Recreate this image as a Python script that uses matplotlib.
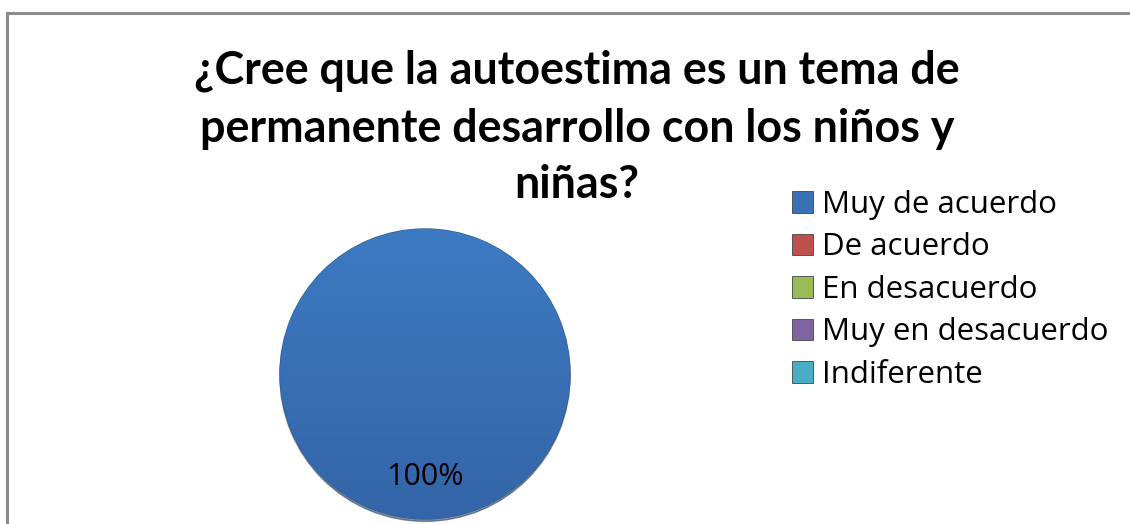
import matplotlib
matplotlib.use("Agg")
import numpy as np
import matplotlib.pyplot as plt
from matplotlib.lines import Line2D

# data
categorias = ["Muy de acuerdo", "De acuerdo", "En desacuerdo",
              "Muy en desacuerdo", "Indiferente"]
porcentajes = [100, 0, 0, 0, 0]
colores = ["#3a71b5", "#c0504d", "#9bbb59", "#8064a2", "#4bacc6"]
titulo = ["¿Cree que la autoestima es un tema de",
          "permanente desarrollo con los niños y",
          "niñas?"]

plt.rcParams["font.family"] = ["Open Sans", "DejaVu Sans"]

W, H = 1130, 524
fig = plt.figure(figsize=(W / 100, H / 100), dpi=100)

# gray frame of the chart area
fig.add_artist(Line2D([0.0062, 0.0062], [0, 0.975], color="#8c8c8c", lw=2.2))
fig.add_artist(Line2D([0.0062, 1], [0.975, 0.975], color="#8c8c8c", lw=2.2))

# title, one text per line (baselines in pixels from the top)
for linea, base in zip(titulo, [83, 142, 198]):
    fig.text(577 / W, 1 - base / H, linea, ha="center", va="baseline",
             fontsize=32.3, fontweight="bold", family=["Lato", "DejaVu Sans"])

ax = fig.add_axes([0.2157, -0.0596, 0.3208, 0.6918])
ax.set_aspect("equal")


def etiqueta(p):
    return f"{p:.0f}%" if p > 0 else ""


wedges, textos, autotextos = ax.pie(
    porcentajes, colors=colores, startangle=90, autopct=etiqueta,
    pctdistance=0.71, radius=1.0,
    shadow={"ox": 0.0, "oy": -0.012, "shade": 0.6},
    wedgeprops=dict(edgecolor="#2f5f99", linewidth=1.0),
    textprops=dict(fontsize=22, color="black"))
for w, p in zip(wedges, porcentajes):
    if p == 0:
        w.set_linewidth(0)
        w.set_edgecolor("none")

# soft top-to-bottom shading inside the full slice
grad = np.linspace(0, 1, 256).reshape(-1, 1)
cmap = matplotlib.colors.LinearSegmentedColormap.from_list(
    "azul", ["#3465a8", "#3d7ac2"])
img = ax.imshow(grad, cmap=cmap, extent=(-1, 1, -1, 1), origin="lower",
                aspect="auto", zorder=1.5)
img.set_clip_path(wedges[0])
autotextos[0].set_zorder(3)
ax.set_xlim(-1.25, 1.25)
ax.set_ylim(-1.25, 1.25)

leg = fig.legend(wedges, categorias, loc="center left",
                 bbox_to_anchor=(0.7009, 0.4466), frameon=False,
                 fontsize=22.5, handlelength=0.68, handleheight=0.68,
                 handletextpad=0.28, labelspacing=0.40, borderaxespad=0,
                 borderpad=0)
for h, c in zip(leg.legend_handles, colores):
    h.set_facecolor(c)
    h.set_edgecolor("#444444")
    h.set_linewidth(0.6)

fig.savefig("out.png", dpi=100)
